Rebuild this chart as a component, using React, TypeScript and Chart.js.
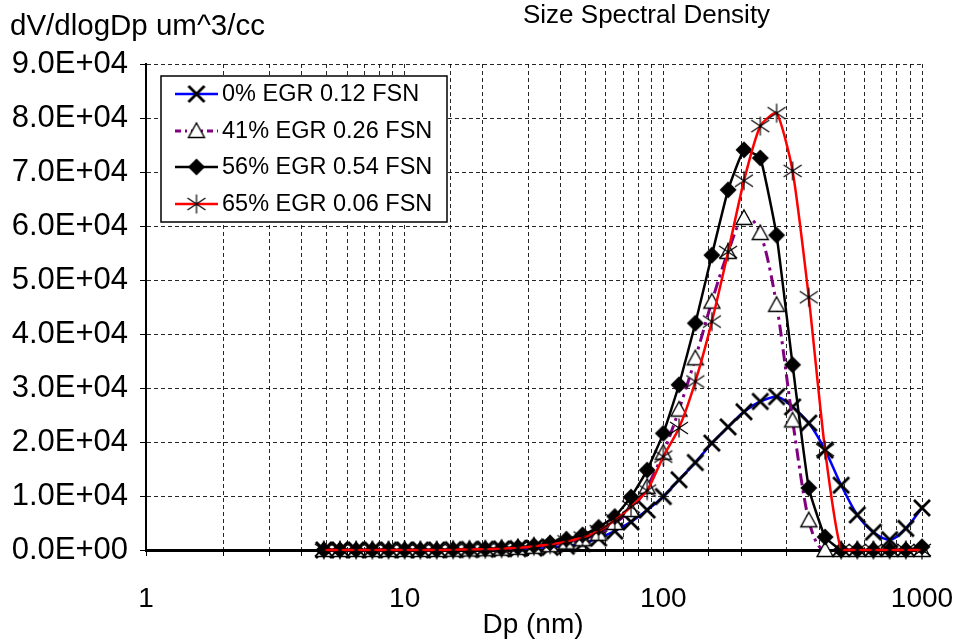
import React, { useEffect, useRef } from 'react';
import { Chart, registerables } from 'chart.js';

Chart.register(...registerables);

// Particle diameter bins (nm)
const diameters = [4.87, 5.62, 6.49, 7.5, 8.66, 10, 11.5, 13.3, 15.4, 17.8, 20.5, 23.7, 27.4, 31.6, 36.5, 42.2, 48.7, 56.2, 64.9, 75, 86.6, 100, 115, 133, 154, 178, 205, 237, 274, 316, 365, 422, 487, 562, 649, 750, 866, 1000];

// dV/dlogDp (um^3/cc)
const egr0 = [0, 0, 0, 0, 0, 0, 0, 0, 50, 100, 150, 200, 250, 350, 500, 700, 1200, 2200, 3500, 5200, 7400, 9900, 13000, 16200, 19800, 22800, 25600, 27500, 28400, 26500, 23500, 18500, 12000, 6500, 3300, 1900, 4000, 7800];
const egr41 = [0, 0, 0, 0, 0, 0, 0, 0, 50, 100, 150, 250, 400, 600, 900, 1400, 2000, 3000, 5000, 7400, 11700, 18000, 26000, 35500, 46000, 55200, 61500, 58700, 45400, 24000, 5500, 0, 0, 0, 0, 0, 0, 0];
const egr56 = [0, 0, 0, 0, 0, 0, 0, 0, 50, 100, 200, 300, 500, 800, 1300, 2000, 2800, 4200, 6200, 9800, 14800, 21600, 30600, 42000, 54600, 66700, 74100, 72600, 58300, 34300, 11500, 2400, 0, 0, 0, 0, 0, 600];
const egr65 = [0, 0, 0, 0, 0, 0, 0, 0, 50, 100, 150, 250, 400, 700, 1000, 1600, 2300, 3500, 5500, 8000, 11000, 17300, 22600, 31200, 42300, 55200, 68400, 78500, 80900, 70200, 46800, 18500, 0, 0, 0, 0, 0, 0];

const seriesLabels = ['0% EGR 0.12 FSN', '41% EGR 0.26 FSN', '56% EGR 0.54 FSN', '65% EGR 0.06 FSN'];
const xMajorTicks = [1, 10, 100, 1000];

const chartTitle = 'Size Spectral Density';
const yTitle = 'dV/dlogDp um^3/cc';
const xTitle = 'Dp (nm)';

const FONT = "'Liberation Sans', Arial, sans-serif";

function fmtExp(v: number): string {
  const [m, e] = Number(v).toExponential(1).split('e');
  const n = parseInt(e, 10);
  return m + 'E' + (n < 0 ? '-' : '+') + String(Math.abs(n)).padStart(2, '0');
}

function makeCanvas(size: number, draw: (c: CanvasRenderingContext2D) => void) {
  const cv = document.createElement('canvas');
  cv.width = size;
  cv.height = size;
  const c = cv.getContext('2d')!;
  draw(c);
  return cv;
}

export default function App() {
  const ref = useRef<HTMLCanvasElement>(null);

  useEffect(() => {
    document.body.style.margin = '0';
    const xMark = makeCanvas(22, (c) => {
      c.strokeStyle = '#000';
      c.lineWidth = 2.8;
      c.beginPath();
      c.moveTo(3, 3); c.lineTo(19, 19);
      c.moveTo(3, 19); c.lineTo(19, 3);
      c.stroke();
    });
    const triMark = makeCanvas(22, (c) => {
      c.fillStyle = '#fff';
      c.strokeStyle = '#000';
      c.lineWidth = 1.4;
      c.beginPath();
      c.moveTo(11, 3); c.lineTo(19, 17.5); c.lineTo(3, 17.5); c.closePath();
      c.fill(); c.stroke();
    });
    const diaMark = makeCanvas(22, (c) => {
      c.fillStyle = '#000';
      c.beginPath();
      c.moveTo(11, 2.5); c.lineTo(19.5, 11); c.lineTo(11, 19.5); c.lineTo(2.5, 11); c.closePath();
      c.fill();
    });
    const starMark = makeCanvas(22, (c) => {
      c.strokeStyle = '#000';
      c.lineWidth = 1.2;
      c.beginPath();
      c.moveTo(11, 1.5); c.lineTo(11, 20.5);
      c.moveTo(2, 5); c.lineTo(20, 17);
      c.moveTo(2, 17); c.lineTo(20, 5);
      c.stroke();
    });

    const toPts = (arr: number[]) => diameters.map((d, i) => ({ x: d, y: arr[i] }));

    const datasets: any[] = [
      {
        label: seriesLabels[0], data: toPts(egr0), borderColor: '#0000ff', borderWidth: 2.5,
        pointStyle: xMark, cubicInterpolationMode: 'monotone', order: 3,
      },
      {
        label: seriesLabels[1], data: toPts(egr41), borderColor: '#800080', borderWidth: 3,
        borderDash: [12, 5, 3, 5], pointStyle: triMark, cubicInterpolationMode: 'monotone', order: 2,
      },
      {
        label: seriesLabels[2], data: toPts(egr56), borderColor: '#000000', borderWidth: 2.5,
        pointStyle: diaMark, tension: 0.12, order: 1,
      },
      {
        label: seriesLabels[3], data: toPts(egr65), borderColor: '#ff0000', borderWidth: 2.5,
        pointStyle: starMark, tension: 0.2, order: 0,
      },
    ].map((d) => ({ ...d, showLine: true, pointRadius: 10, backgroundColor: d.borderColor, clip: false, fill: false }));

    const decor = {
      id: 'decor',
      afterDraw(chart: any) {
        const ctx = chart.ctx as CanvasRenderingContext2D;
        ctx.save();
        ctx.fillStyle = '#000';
        ctx.textBaseline = 'middle';
        ctx.textAlign = 'left';
        ctx.font = `26px ${FONT}`;
        ctx.fillText(chartTitle, 523, 16);
        ctx.font = `29.5px ${FONT}`;
        ctx.fillText(yTitle, 10, 27);
        ctx.font = `28px ${FONT}`;
        ctx.textAlign = 'center';
        ctx.fillText(xTitle, 533, 625);

        // legend
        const lx = 161, ly = 76, lw = 286, lh = 146;
        ctx.fillStyle = '#fff';
        ctx.fillRect(lx, ly, lw, lh);
        ctx.strokeStyle = '#000';
        ctx.lineWidth = 1.5;
        ctx.strokeRect(lx, ly, lw, lh);
        const rows = [94, 131, 167, 204];
        const marks = [xMark, triMark, diaMark, starMark];
        datasets.forEach((ds, i) => {
          const y = rows[i];
          ctx.save();
          ctx.strokeStyle = ds.borderColor;
          ctx.lineWidth = ds.borderWidth;
          ctx.setLineDash(ds.borderDash ? [6, 4, 2, 4] : []);
          ctx.beginPath();
          ctx.moveTo(175, y);
          ctx.lineTo(218, y);
          ctx.stroke();
          ctx.restore();
          ctx.drawImage(marks[i], 196.5 - 11, y - 11);
          ctx.fillStyle = '#000';
          ctx.textAlign = 'left';
          ctx.textBaseline = 'middle';
          ctx.font = `23.5px ${FONT}`;
          ctx.fillText(ds.label, 222, y + 1);
        });
        ctx.restore();
      },
    };

    const chart = new Chart(ref.current!, {
      type: 'scatter',
      data: { datasets },
      plugins: [decor],
      options: {
        animation: false,
        responsive: false,
        layout: { padding: { top: 64, right: 36, bottom: 0, left: 0 } },
        plugins: { legend: { display: false }, title: { display: false }, tooltip: { enabled: false } },
        scales: {
          x: {
            type: 'logarithmic',
            min: 1,
            max: 1000,
            afterFit: (s: any) => { s.height = 90; s.paddingLeft = 0; s.paddingRight = 0; },
            grid: { color: 'rgba(0,0,0,0.85)', lineWidth: 1, tickLength: 6, tickColor: '#000' },
            border: { display: true, color: '#000', width: 3, dash: [4, 3] },
            ticks: {
              autoSkip: false,
              maxRotation: 0,
              padding: 26,
              color: '#000',
              font: { size: 28, family: FONT },
              callback: (v: any) => {
                const n = Number(v);
                return xMajorTicks.some((t) => Math.abs(t - n) < 1e-9) ? String(n) : '';
              },
            },
          },
          y: {
            type: 'linear',
            min: 0,
            max: 90000,
            afterFit: (s: any) => { s.width = 146; s.paddingTop = 0; s.paddingBottom = 0; },
            grid: { color: 'rgba(0,0,0,0.85)', lineWidth: 1, tickLength: 6, tickColor: '#000' },
            border: { display: true, color: '#000', width: 2, dash: [4, 3] },
            ticks: {
              stepSize: 10000,
              padding: 12,
              color: '#000',
              font: { size: 31, family: FONT },
              callback: (v: any) => fmtExp(Number(v)),
            },
          },
        },
      } as any,
    });
    return () => chart.destroy();
  }, []);

  return (
    <div style={{ width: 958, height: 640 }}>
      <canvas ref={ref} width={958} height={640} style={{ display: 'block' }} />
    </div>
  );
}
